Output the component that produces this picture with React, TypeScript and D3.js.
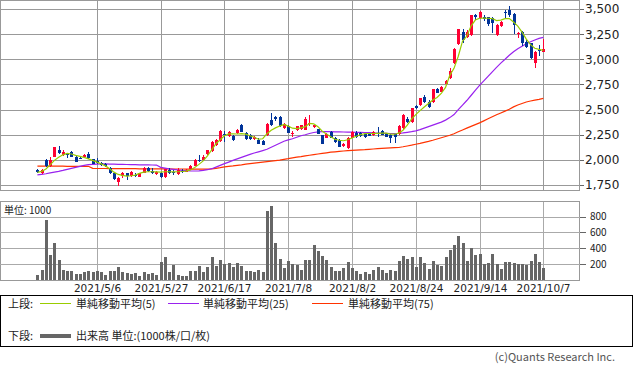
import * as d3 from "d3";
import { useEffect } from "react";

// 2021/4/12 .. 2021/10/7, 120 trading days
const tickLabels = ["2021/5/6", "2021/5/27", "2021/6/17", "2021/7/8", "2021/8/2", "2021/8/24", "2021/9/14", "2021/10/7"];
const tickIndex = [14, 29, 44, 59, 74, 89, 104, 119];
const priceTicks = [1750, 2000, 2250, 2500, 2750, 3000, 3250, 3500];
const volumeTicks = [200, 400, 600, 800];

const opens = [
  1900, 1872, 2000, 1935, 2030, 2097, 2048, 2062, 2080, 2030, 2018, 2030, 2058, 2004, 1990, 1965, 1955, 1915, 1870, 1782,
  1840, 1865, 1840, 1852, 1832, 1872, 1915, 1892, 1855, 1865, 1830, 1898, 1882, 1858, 1888, 1890, 1905, 1940, 2000, 2002,
  2062, 2085, 2145, 2188, 2255, 2240, 2235, 2263, 2346, 2268, 2245, 2205, 2200, 2185, 2245, 2400, 2428, 2428, 2318, 2334,
  2265, 2295, 2311, 2300, 2355, 2322, 2305, 2245, 2222, 2278, 2222, 2196, 2139, 2119, 2222, 2268, 2265, 2260, 2258, 2245,
  2268, 2290, 2262, 2245, 2255, 2262, 2312, 2411, 2378, 2534, 2544, 2627, 2577, 2577, 2700, 2677, 2753, 2810, 2959, 3148,
  3275, 3225, 3241, 3440, 3407, 3424, 3417, 3407, 3241, 3331, 3468, 3490, 3450, 3255, 3275, 3175, 3158, 2959, 3095, 3075,
];
const highs = [
  1910, 1912, 2008, 2032, 2132, 2140, 2095, 2070, 2092, 2035, 2025, 2060, 2080, 2010, 2015, 1975, 1970, 1930, 1880, 1832,
  1880, 1872, 1890, 1865, 1870, 1925, 1930, 1915, 1890, 1880, 1910, 1915, 1898, 1915, 1905, 1910, 1945, 2005, 2050, 2045,
  2100, 2185, 2210, 2295, 2288, 2282, 2250, 2305, 2360, 2275, 2260, 2240, 2215, 2195, 2365, 2465, 2440, 2435, 2370, 2345,
  2285, 2340, 2350, 2425, 2444, 2350, 2310, 2250, 2268, 2285, 2230, 2205, 2168, 2230, 2285, 2290, 2275, 2268, 2265, 2290,
  2325, 2300, 2270, 2255, 2262, 2345, 2455, 2425, 2520, 2545, 2620, 2645, 2595, 2705, 2715, 2730, 2795, 2910, 3110, 3305,
  3300, 3290, 3445, 3450, 3485, 3440, 3425, 3420, 3350, 3385, 3490, 3530, 3460, 3270, 3285, 3200, 3165, 3080, 3140, 3198,
];
const lows = [
  1865, 1862, 1930, 1925, 2025, 2058, 2035, 2020, 2025, 1978, 2005, 2025, 2012, 1955, 1960, 1940, 1925, 1860, 1795, 1745,
  1818, 1800, 1830, 1825, 1825, 1865, 1880, 1862, 1850, 1815, 1822, 1858, 1850, 1850, 1870, 1875, 1900, 1935, 1980, 1995,
  2050, 2080, 2140, 2180, 2178, 2225, 2185, 2255, 2275, 2200, 2200, 2195, 2155, 2145, 2240, 2335, 2390, 2330, 2305, 2265,
  2225, 2290, 2300, 2295, 2340, 2315, 2255, 2155, 2215, 2215, 2170, 2125, 2130, 2112, 2215, 2222, 2225, 2222, 2235, 2240,
  2230, 2245, 2225, 2170, 2172, 2250, 2305, 2370, 2370, 2505, 2535, 2570, 2515, 2570, 2660, 2670, 2748, 2800, 2950, 3140,
  3165, 3215, 3235, 3395, 3400, 3380, 3330, 3260, 3235, 3325, 3410, 3425, 3255, 3210, 3130, 3110, 3000, 2910, 3035, 3070,
];
const closes = [
  1878, 1902, 1935, 2000, 2125, 2065, 2080, 2058, 2030, 1982, 2012, 2045, 2015, 1960, 1965, 1945, 1935, 1866, 1810, 1815,
  1865, 1835, 1880, 1847, 1865, 1915, 1892, 1868, 1882, 1825, 1905, 1872, 1868, 1898, 1882, 1892, 1938, 2000, 1985, 2029,
  2095, 2178, 2202, 2288, 2248, 2278, 2197, 2300, 2275, 2205, 2210, 2228, 2162, 2152, 2361, 2345, 2402, 2338, 2361, 2271,
  2272, 2334, 2344, 2410, 2370, 2345, 2262, 2162, 2262, 2222, 2179, 2129, 2162, 2222, 2278, 2229, 2235, 2228, 2240, 2280,
  2258, 2252, 2230, 2215, 2225, 2335, 2445, 2378, 2511, 2511, 2611, 2577, 2528, 2700, 2667, 2720, 2787, 2886, 3099, 3298,
  3192, 3268, 3440, 3417, 3474, 3397, 3351, 3358, 3341, 3374, 3460, 3440, 3341, 3262, 3158, 3125, 3009, 3075, 3090, 3105,
];
const volumes = [
  64, 128, 753, 319, 468, 255, 123, 115, 115, 77, 81, 106, 115, 106, 115, 98, 64, 115, 115, 170,
  98, 85, 72, 89, 55, 98, 72, 85, 64, 226, 285, 106, 191, 64, 55, 55, 115, 115, 179, 106,
  170, 285, 179, 255, 196, 213, 170, 213, 179, 115, 111, 102, 128, 106, 864, 928, 460, 268, 157, 243,
  204, 183, 128, 255, 255, 447, 362, 298, 255, 170, 115, 115, 157, 230, 157, 115, 72, 106, 72, 128,
  170, 128, 85, 128, 115, 243, 306, 268, 294, 170, 294, 213, 140, 243, 191, 179, 285, 383, 438, 549,
  460, 243, 400, 319, 332, 204, 217, 332, 204, 140, 226, 226, 217, 204, 204, 183, 243, 332, 230, 153,
];
const ma5 = [
  1875, 1885, 1910, 1950, 1995, 2025, 2050, 2065, 2058, 2045, 2035, 2025, 2010, 1995, 1978, 1960, 1940, 1912, 1878, 1855,
  1845, 1838, 1842, 1848, 1865, 1878, 1882, 1882, 1880, 1878, 1882, 1882, 1880, 1882, 1884, 1888, 1900, 1925, 1955, 1990,
  2040, 2100, 2160, 2200, 2240, 2258, 2258, 2257, 2260, 2256, 2240, 2225, 2205, 2210, 2260, 2295, 2318, 2336, 2352, 2335,
  2315, 2310, 2318, 2330, 2362, 2358, 2330, 2285, 2258, 2230, 2205, 2195, 2190, 2200, 2218, 2235, 2250, 2260, 2262, 2262,
  2264, 2266, 2266, 2256, 2255, 2265, 2295, 2345, 2405, 2450, 2490, 2525, 2560, 2595, 2620, 2660, 2720, 2840, 2910, 3030,
  3180, 3230, 3330, 3390, 3408, 3410, 3408, 3405, 3385, 3390, 3404, 3405, 3370, 3330, 3270, 3200, 3145, 3110, 3098, 3088,
];
const ma25 = [
  1850, 1856, 1862, 1870, 1878, 1886, 1895, 1905, 1915, 1925, 1935, 1945, 1952, 1956, 1958, 1960, 1960, 1958, 1957, 1956,
  1955, 1954, 1953, 1952, 1951, 1950, 1950, 1949, 1948, 1925, 1918, 1910, 1905, 1900, 1896, 1893, 1890, 1889, 1890, 1895,
  1902, 1912, 1928, 1945, 1962, 1978, 1995, 2010, 2025, 2040, 2055, 2068, 2080, 2092, 2105, 2125, 2145, 2165, 2185, 2198,
  2210, 2225, 2240, 2250, 2262, 2272, 2278, 2280, 2281, 2280, 2279, 2278, 2277, 2276, 2275, 2274, 2273, 2272, 2270, 2268,
  2267, 2265, 2264, 2262, 2262, 2263, 2268, 2274, 2280, 2288, 2300, 2315, 2330, 2345, 2360, 2375, 2395, 2420, 2450, 2500,
  2545, 2590, 2640, 2690, 2740, 2785, 2830, 2875, 2920, 2962, 3000, 3040, 3075, 3105, 3130, 3155, 3175, 3192, 3208, 3218,
];
const ma75 = [
  1938, 1938, 1938, 1937, 1937, 1937, 1937, 1936, 1936, 1936, 1936, 1936, 1936, 1915, 1914, 1914, 1914, 1913, 1913, 1913,
  1912, 1912, 1912, 1912, 1911, 1911, 1911, 1911, 1910, 1910, 1910, 1910, 1909, 1909, 1909, 1908, 1908, 1908, 1908, 1908,
  1908, 1910, 1915, 1922, 1930, 1935, 1940, 1946, 1951, 1957, 1963, 1968, 1973, 1978, 1983, 1988, 1993, 1998, 2005, 2012,
  2020, 2027, 2033, 2040, 2046, 2052, 2058, 2064, 2070, 2076, 2080, 2084, 2088, 2091, 2094, 2097, 2100, 2102, 2105, 2108,
  2111, 2114, 2117, 2119, 2121, 2123, 2130, 2138, 2146, 2155, 2164, 2174, 2184, 2195, 2207, 2220, 2232, 2245, 2260, 2279,
  2297, 2315, 2333, 2350, 2368, 2388, 2408, 2428, 2448, 2466, 2485, 2503, 2527, 2545, 2560, 2575, 2585, 2594, 2602, 2611,
];

const UP = "#ff0033";
const DOWN = "#003399";
const MA5_COLOR = "#99cc00";
const MA25_COLOR = "#9922ee";
const MA75_COLOR = "#ff3300";
const GRID = "#999999";
const JP = "'Noto Sans CJK JP', 'Noto Sans', sans-serif";
const NUM = "'DejaVu Sans', sans-serif";

export default function App() {
  useEffect(() => {
    document.body.style.margin = "0";
  }, []);

  const width = 633;
  const height = 371;

  const x = d3.scaleLinear().domain([0, closes.length - 1]).range([37.4, 543.3]);
  const yPrice = d3.scaleLinear().domain([1750, 3500]).range([185, 9]);
  const yVol = d3.scaleLinear().domain([0, 800]).range([280, 216.5]);

  const maLine = d3
    .line<number>()
    .x((_, i) => x(i))
    .y((d) => yPrice(d));

  const px = (i: number) => Math.round(x(i));

  return (
    <svg width={width} height={height} style={{ display: "block", background: "#fff" }}>
      {/* price panel */}
      <g shapeRendering="crispEdges">
        <rect x={0.5} y={0.5} width={579} height={190} fill="#fff" stroke={GRID} />
        {priceTicks.map((t) => (
          <g key={t}>
            <line x1={0} x2={579.5} y1={Math.round(yPrice(t)) + 0.5} y2={Math.round(yPrice(t)) + 0.5} stroke={GRID} />
            <line x1={579.5} x2={583.5} y1={Math.round(yPrice(t)) + 0.5} y2={Math.round(yPrice(t)) + 0.5} stroke="#666" />
          </g>
        ))}
        {tickIndex.map((t) => (
          <line key={t} x1={px(t) + 0.5} x2={px(t) + 0.5} y1={0} y2={190.5} stroke={GRID} />
        ))}
      </g>
      {priceTicks.map((t) => (
        <text key={t} x={585} y={yPrice(t) + 4.4} fontFamily={NUM} fontSize={12} fill="#222">
          {d3.format(",")(t)}
        </text>
      ))}

      {/* moving averages */}
      <path d={maLine(ma75) ?? ""} fill="none" stroke={MA75_COLOR} strokeWidth={1.2} />
      <path d={maLine(ma25) ?? ""} fill="none" stroke={MA25_COLOR} strokeWidth={1.2} />

      {/* candles */}
      <g shapeRendering="crispEdges">
        {closes.map((c, i) => {
          const o = opens[i];
          const color = c >= o ? UP : DOWN;
          const top = Math.round(yPrice(Math.max(o, c)));
          const bot = Math.round(yPrice(Math.min(o, c)));
          const cx = px(i);
          return (
            <g key={i}>
              <line x1={cx + 0.5} x2={cx + 0.5} y1={yPrice(highs[i])} y2={yPrice(lows[i])} stroke={color} />
              <rect x={cx - 1} y={top} width={3} height={Math.max(1, bot - top)} fill={color} />
            </g>
          );
        })}
      </g>
      <path d={maLine(ma5) ?? ""} fill="none" stroke={MA5_COLOR} strokeWidth={1.2} />

      {/* volume panel */}
      <g shapeRendering="crispEdges">
        <rect x={0.5} y={201.5} width={579} height={79} fill="#fff" stroke={GRID} />
        {volumeTicks.map((t) => (
          <g key={t}>
            <line x1={0} x2={579.5} y1={Math.round(yVol(t)) + 0.5} y2={Math.round(yVol(t)) + 0.5} stroke="#aaa" />
            <line x1={579.5} x2={585.5} y1={Math.round(yVol(t)) + 0.5} y2={Math.round(yVol(t)) + 0.5} stroke="#666" />
          </g>
        ))}
        {tickIndex.map((t) => (
          <line key={t} x1={px(t) + 0.5} x2={px(t) + 0.5} y1={201.5} y2={280.5} stroke="#aaa" />
        ))}
        {volumes.map((v, i) => (
          <rect key={i} x={px(i) - 1} y={Math.round(yVol(v))} width={3} height={280 - Math.round(yVol(v))} fill="#666" />
        ))}
      </g>
      <text x={4} y={213.5} fontFamily={JP} fontSize={10} fill="#222">
        単位: 1000
      </text>
      {volumeTicks.map((t) => (
        <text key={t} x={590} y={yVol(t) + 3.6} fontFamily={JP} fontSize={10} fill="#222">
          {t}
        </text>
      ))}

      {/* date axis */}
      {tickIndex.map((t, k) => (
        <text key={t} x={px(t) + 0.5} y={291.5} textAnchor="middle" fontFamily={NUM} fontSize={10.5} fill="#222">
          {tickLabels[k]}
        </text>
      ))}

      {/* legend */}
      <rect x={0.5} y={295.5} width={632} height={51} fill="none" stroke="#000" shapeRendering="crispEdges" />
      <g fontFamily={JP} fontSize={11} fill="#222">
        <text x={8} y={307.5}>上段:</text>
        <line x1={40} x2={71} y1={303.5} y2={303.5} stroke={MA5_COLOR} />
        <text x={76} y={307.5}>単純移動平均(5)</text>
        <line x1={168} x2={199} y1={303.5} y2={303.5} stroke={MA25_COLOR} />
        <text x={203} y={307.5}>単純移動平均(25)</text>
        <line x1={312} x2={343} y1={303.5} y2={303.5} stroke={MA75_COLOR} />
        <text x={348} y={307.5}>単純移動平均(75)</text>
        <text x={8} y={340}>下段:</text>
        <line x1={40} x2={71} y1={336} y2={336} stroke="#666" strokeWidth={4} />
        <text x={76} y={340}>出来高 単位:(1000株/口/枚)</text>
      </g>
      <text x={615} y={361} textAnchor="end" fontFamily={JP} fontSize={11} fill="#555">
        (c)Quants Research Inc.
      </text>
    </svg>
  );
}
